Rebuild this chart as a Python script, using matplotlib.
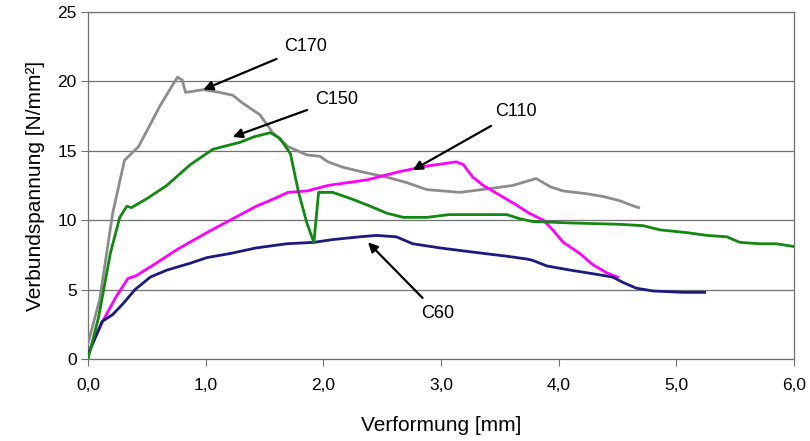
import matplotlib.pyplot as plt
import numpy as np

plt.rcParams['font.family'] = ['Liberation Sans', 'DejaVu Sans']

# C170 (grau)
c170_x = [0.0, 0.10, 0.21, 0.31, 0.43, 0.61, 0.76, 0.80, 0.83, 0.98, 1.12, 1.23, 1.32, 1.46,
          1.57, 1.70, 1.86, 1.97, 2.04, 2.17, 2.37, 2.54, 2.71, 2.88, 3.16, 3.44, 3.61, 3.73,
          3.81, 3.93, 4.04, 4.24, 4.38, 4.52, 4.61, 4.68]
c170_y = [1.1, 4.3, 10.5, 14.3, 15.3, 18.2, 20.3, 20.1, 19.2, 19.4, 19.2, 19.0, 18.4, 17.6,
          16.3, 15.3, 14.7, 14.6, 14.2, 13.8, 13.4, 13.1, 12.7, 12.2, 12.0, 12.3, 12.5, 12.8,
          13.0, 12.4, 12.1, 11.9, 11.7, 11.4, 11.1, 10.9]

# C150 (gruen)
c150_x = [0.0, 0.09, 0.19, 0.27, 0.33, 0.37, 0.51, 0.67, 0.87, 1.06, 1.15, 1.29, 1.41, 1.55,
          1.63, 1.72, 1.79, 1.86, 1.92, 1.96, 2.03, 2.08, 2.25, 2.40, 2.54, 2.68, 2.88, 3.07,
          3.30, 3.56, 3.67, 3.78, 4.10, 4.52, 4.72, 4.86, 5.09, 5.26, 5.43, 5.54, 5.71, 5.85, 6.0]
c150_y = [0.0, 3.0, 7.6, 10.2, 11.0, 10.9, 11.6, 12.5, 14.0, 15.1, 15.3, 15.6, 16.0, 16.3,
          15.9, 14.8, 12.0, 9.8, 8.4, 12.0, 12.0, 12.0, 11.5, 11.0, 10.5, 10.2, 10.2, 10.4,
          10.4, 10.4, 10.1, 9.9, 9.8, 9.7, 9.6, 9.3, 9.1, 8.9, 8.8, 8.4, 8.3, 8.3, 8.1]

# C110 (magenta)
c110_x = [0.0, 0.13, 0.24, 0.34, 0.41, 0.58, 0.76, 1.01, 1.23, 1.43, 1.57, 1.70, 1.86, 2.04,
          2.37, 2.65, 2.88, 3.05, 3.13, 3.19, 3.27, 3.36, 3.50, 3.64, 3.75, 3.87, 3.95, 4.04,
          4.18, 4.29, 4.41, 4.50]
c110_y = [0.4, 2.8, 4.5, 5.8, 6.0, 6.9, 7.9, 9.1, 10.1, 11.0, 11.5, 12.0, 12.1, 12.5,
          12.9, 13.5, 13.9, 14.1, 14.2, 14.0, 13.1, 12.5, 11.8, 11.1, 10.5, 10.0, 9.3, 8.4,
          7.6, 6.8, 6.2, 5.9]

# C60 (dunkelblau)
c60_x = [0.0, 0.12, 0.21, 0.30, 0.40, 0.53, 0.67, 0.87, 1.01, 1.21, 1.43, 1.69, 1.92, 2.08,
         2.31, 2.45, 2.62, 2.76, 2.99, 3.27, 3.56, 3.73, 3.78, 3.90, 4.10, 4.32, 4.46, 4.55,
         4.66, 4.80, 5.06, 5.24]
c60_y = [0.3, 2.7, 3.2, 4.0, 5.0, 5.9, 6.4, 6.9, 7.3, 7.6, 8.0, 8.3, 8.4, 8.6,
         8.8, 8.9, 8.8, 8.3, 8.0, 7.7, 7.4, 7.2, 7.1, 6.7, 6.4, 6.1, 5.9, 5.5,
         5.1, 4.9, 4.8, 4.8]

# Beschriftungen: Name, Pfeilspitze, Textposition
labels = ['C170', 'C150', 'C110', 'C60']
arrow_tips = [(0.98, 19.4), (1.23, 16.0), (2.76, 13.6), (2.38, 8.4)]
text_pos = [(1.67, 22.5), (1.93, 18.7), (3.46, 17.8), (2.83, 3.3)]

fig = plt.figure(figsize=(8.1, 4.41), dpi=100)
ax = fig.add_axes([0.1086, 0.186, 0.8716, 0.787])

lw = 2.0
ax.plot(c170_x, c170_y, color='#8c8c8c', lw=lw, zorder=3)
ax.plot(c110_x, c110_y, color='#ff00ff', lw=lw, zorder=3)
ax.plot(c60_x, c60_y, color='#1a1a80', lw=lw, zorder=3)
ax.plot(c150_x, c150_y, color='#118811', lw=lw, zorder=4)

for name, tip, pos in zip(labels, arrow_tips, text_pos):
    ax.annotate(name, xy=tip, xytext=pos, fontsize=13, va='center', ha='left',
                arrowprops=dict(arrowstyle='-|>', color='black', lw=1.6,
                                mutation_scale=14, shrinkA=4, shrinkB=0),
                zorder=5)

ax.set_xlim(0, 6)
ax.set_ylim(0, 25)
ax.set_xticks(np.arange(0, 6.1, 1))
ax.set_xticklabels([f'{v:.1f}'.replace('.', ',') for v in np.arange(0, 6.1, 1)])
ax.set_yticks(np.arange(0, 26, 5))
ax.tick_params(labelsize=12.5, direction='out', length=5, color='#707070')
ax.tick_params(axis='y', pad=3)
ax.tick_params(axis='x', pad=9)

ax.yaxis.grid(True, color='#707070', lw=0.9)
ax.set_axisbelow(True)
for s in ['left', 'bottom', 'right', 'top']:
    ax.spines[s].set_color('#707070')
    ax.spines[s].set_linewidth(0.9)

ax.set_xlabel('Verformung [mm]', fontsize=15, labelpad=16)
ax.set_ylabel('Verbundspannung [N/mm²]', fontsize=15, labelpad=9)

fig.savefig('out.png', dpi=100)
